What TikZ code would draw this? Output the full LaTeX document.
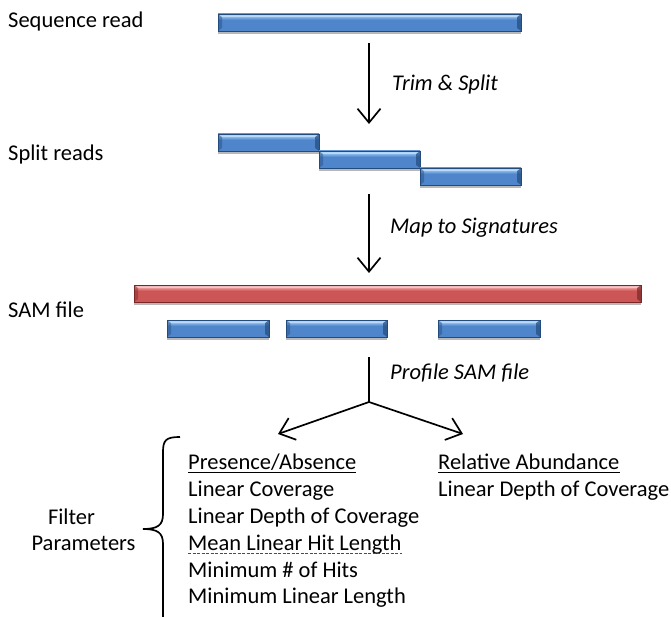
\documentclass[tikz,border=0pt]{standalone}
\usepackage{fontspec}
\setmainfont{Carlito}
\usetikzlibrary{arrows.meta,shadows,calc}
\definecolor{bTop}{HTML}{6A9FE0}
\definecolor{bHi}{HTML}{9CCBF7}
\definecolor{bMid}{HTML}{4F85CB}
\definecolor{bBot}{HTML}{2B5C9B}
\definecolor{bEdge}{HTML}{234B7E}
\definecolor{rTop}{HTML}{E07474}
\definecolor{rHi}{HTML}{F7A9A9}
\definecolor{rMid}{HTML}{CC5656}
\definecolor{rBot}{HTML}{9A3434}
\definecolor{rEdge}{HTML}{7A2727}
\pgfdeclareverticalshading{blueshade}{100bp}{color(0bp)=(bBot); color(25bp)=(bMid); color(58bp)=(bMid); color(70bp)=(bHi); color(80bp)=(bMid); color(100bp)=(bTop)}
\pgfdeclareverticalshading{redshade}{100bp}{color(0bp)=(rBot); color(25bp)=(rMid); color(58bp)=(rMid); color(70bp)=(rHi); color(80bp)=(rMid); color(100bp)=(rTop)}
\tikzset{
  bevel/.style={path picture={
    \fill[#1,opacity=.45] (path picture bounding box.north west) -- ([xshift=4pt,yshift=-3pt]path picture bounding box.north west) -- ([xshift=4pt,yshift=3pt]path picture bounding box.south west) -- (path picture bounding box.south west) -- cycle;
    \fill[#1,opacity=.7] (path picture bounding box.north east) -- ([xshift=-4pt,yshift=-3pt]path picture bounding box.north east) -- ([xshift=-4pt,yshift=3pt]path picture bounding box.south east) -- (path picture bounding box.south east) -- cycle;
    \fill[white,opacity=.35] (path picture bounding box.north west) -- (path picture bounding box.north east) -- ([xshift=-4pt,yshift=-3pt]path picture bounding box.north east) -- ([xshift=4pt,yshift=-3pt]path picture bounding box.north west) -- cycle;
  }},
  barbase/.style={rectangle, inner sep=0pt, minimum height=17pt, line width=0.5pt,
    drop shadow={shadow xshift=0pt, shadow yshift=-3pt, opacity=0.28, fill=black}},
  bluebar/.style={barbase, draw=bEdge, shading=blueshade, bevel=bEdge},
  redbar/.style={barbase, draw=rEdge, shading=redshade, bevel=rEdge},
  txt/.style={inner sep=0pt, anchor=base west, font=\fontsize{22.5}{26}\selectfont},
  lbl/.style={txt, font=\fontsize{22.5}{26}\selectfont\itshape},
  flow/.style={line width=1.7pt, -{Straight Barb[length=14pt,width=23pt]}},
  plain/.style={line width=1.7pt},
  uline/.style={line width=0.8pt},
}
\begin{document}
\begin{tikzpicture}[x=1pt,y=-1pt]
\useasboundingbox (0,0) rectangle (671,617);
% bars
\node[bluebar, minimum width=303pt] (seq) at (369.5,22.5) {};
\node[bluebar, minimum width=101pt] (sp1) at (268.5,142.5) {};
\node[bluebar, minimum width=101pt] (sp2) at (369.5,159.5) {};
\node[bluebar, minimum width=101pt] (sp3) at (470.5,176.5) {};
\node[redbar, minimum width=507pt] (sam) at (387.5,293.5) {};
\node[bluebar, minimum width=102pt] (m1) at (218,328.5) {};
\node[bluebar, minimum width=101pt] (m2) at (336.5,328.5) {};
\node[bluebar, minimum width=102pt] (m3) at (489,328.5) {};
% left labels
\node[txt] (l1) at (8,28) {Sequence read};
\node[txt] (l2) at (8,161) {Split reads};
\node[txt] (l3) at (8,317) {SAM file};
% arrows
\coordinate (a1s) at (369,43);
\coordinate (a1e) at (369,124);
\coordinate (a2s) at (369,194);
\coordinate (a2e) at (369,273);
\coordinate (a3s) at (369,357);
\coordinate (j) at (369,402);
\coordinate (tl) at (278,434);
\coordinate (tr) at (463,434);
\draw[flow] (a1s) -- (a1e);
\draw[flow] (a2s) -- (a2e);
\draw[plain] (a3s) -- (j);
\draw[flow] (j) -- (tl);
\draw[flow] (j) -- (tr);
\node[lbl] (t1) at (392,91) {Trim \& Split};
\node[lbl] (t2) at (390,234) {Map to Signatures};
\node[lbl] (t3) at (390,379) {Profile SAM file};
% lists
\node[txt] (pa) at (188,469) {Presence/Absence};
\node[txt] (pa1) at (188,496) {Linear Coverage};
\node[txt] (pa2) at (188,523) {Linear Depth of Coverage};
\node[txt] (pa3) at (188,550) {Mean Linear Hit Length};
\node[txt] (pa4) at (188,577) {Minimum \# of Hits};
\node[txt] (pa5) at (188,603) {Minimum Linear Length};
\node[txt] (ra) at (438,469) {Relative Abundance};
\node[txt] (ra1) at (438,496) {Linear Depth of Coverage};
\draw[uline] ([yshift=-3pt]pa.base west) -- ([yshift=-3pt]pa.base east);
\draw[uline] ([yshift=-3pt]ra.base west) -- ([yshift=-3pt]ra.base east);
\draw[uline, black!70, dash pattern=on 3pt off 1.5pt] ([yshift=-3pt]pa3.base west) -- ([yshift=-3pt]pa3.base east);
% brace
\node[txt, anchor=base] (f1) at (71.5,524) {Filter};
\node[txt, anchor=base] (f2) at (83.5,550) {Parameters};
\coordinate (bt) at (180,437);
\coordinate (bm) at (143,529);
\draw[line width=1.7pt] (bt) .. controls (166,437) and (163,440) .. (163,452)
  -- (163,514) .. controls (163,525) and (158,529) .. (bm)
  .. controls (158,529) and (163,533) .. (163,544) -- (163,625);
\end{tikzpicture}
\end{document}
